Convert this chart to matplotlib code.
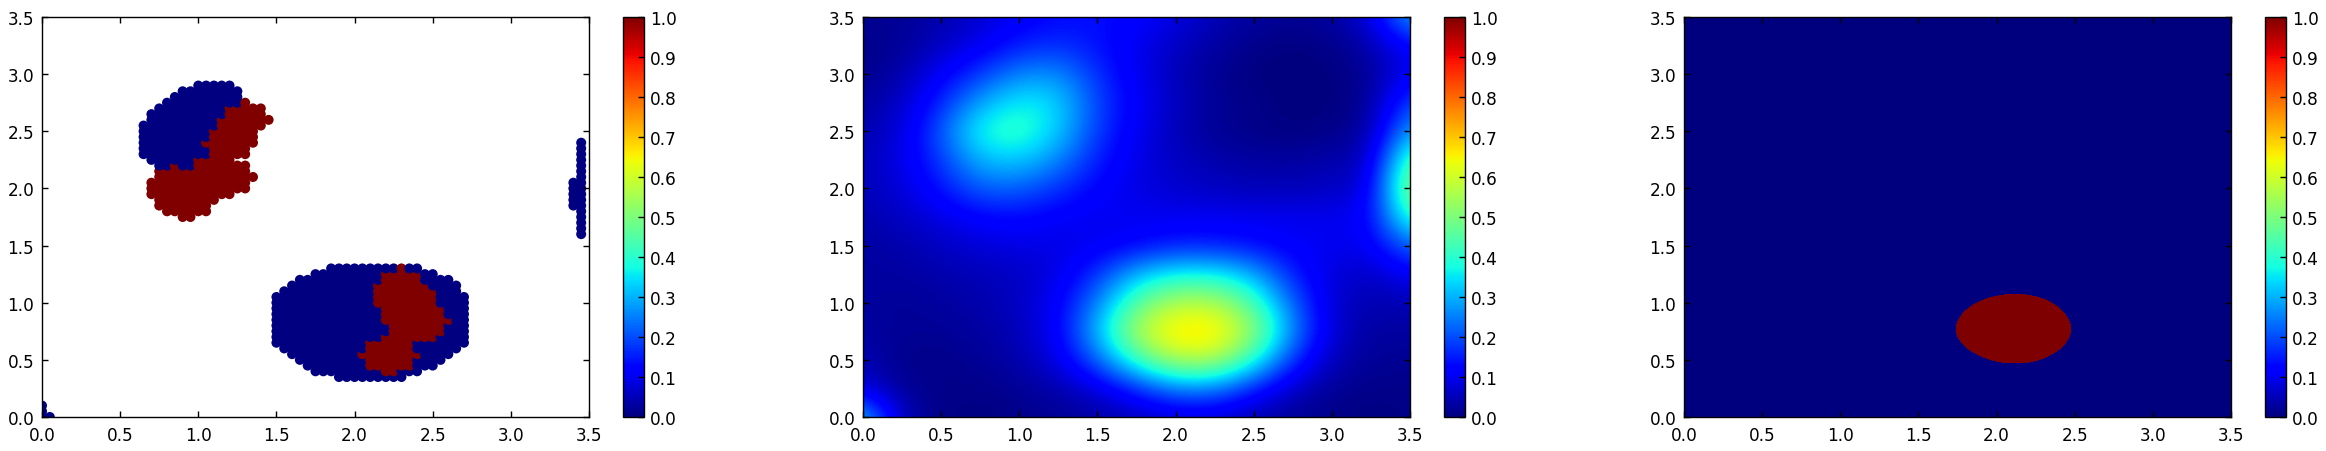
import matplotlib
matplotlib.use("Agg")
import matplotlib.pyplot as plt
import numpy as np
from matplotlib.cm import ScalarMappable
from matplotlib.colors import BoundaryNorm, ListedColormap, Normalize

# ── Training points: (y, first x, last x, runs of x labelled 1) ─────────
upper_blob = [
    (2.90, 1.00, 1.20, []),
    (2.85, 0.90, 1.25, []),
    (2.80, 0.85, 1.25, []),
    (2.75, 0.80, 1.30, [(1.30, 1.30)]),
    (2.70, 0.75, 1.40, [(1.20, 1.40)]),
    (2.65, 0.70, 1.40, [(1.20, 1.40)]),
    (2.60, 0.70, 1.45, [(1.15, 1.45)]),
    (2.55, 0.65, 1.40, [(1.15, 1.40)]),
    (2.50, 0.65, 1.35, [(1.10, 1.35)]),
    (2.45, 0.65, 1.35, [(1.10, 1.35)]),
    (2.40, 0.65, 1.35, [(1.05, 1.35)]),
    (2.35, 0.65, 1.30, [(1.10, 1.30)]),
    (2.30, 0.65, 1.30, [(1.10, 1.30)]),
    (2.25, 0.70, 1.20, [(1.00, 1.20)]),
    (2.20, 0.75, 1.30, [(0.85, 0.85), (1.00, 1.30)]),
    (2.15, 0.75, 1.30, [(0.75, 1.30)]),
    (2.10, 0.75, 1.35, [(0.75, 1.35)]),
    (2.05, 0.70, 1.30, [(0.70, 1.30)]),
    (2.00, 0.70, 1.30, [(0.70, 1.30)]),
    (1.95, 0.70, 1.20, [(0.70, 1.20)]),
    (1.90, 0.75, 1.10, [(0.75, 1.10)]),
    (1.85, 0.75, 1.05, [(0.75, 1.05)]),
    (1.80, 0.80, 1.05, [(0.80, 1.05)]),
    (1.75, 0.90, 0.95, [(0.90, 0.95)]),
]
lower_blob = [
    (1.30, 1.85, 2.40, [(2.30, 2.30)]),
    (1.25, 1.75, 2.50, [(2.20, 2.40)]),
    (1.20, 1.65, 2.60, [(2.20, 2.40)]),
    (1.15, 1.60, 2.65, [(2.15, 2.45)]),
    (1.10, 1.55, 2.65, [(2.15, 2.50)]),
    (1.05, 1.50, 2.70, [(2.15, 2.50)]),
    (1.00, 1.50, 2.70, [(2.15, 2.50)]),
    (0.95, 1.50, 2.70, [(2.20, 2.55)]),
    (0.90, 1.50, 2.70, [(2.20, 2.55)]),
    (0.85, 1.50, 2.70, [(2.20, 2.60)]),
    (0.80, 1.50, 2.70, [(2.25, 2.55)]),
    (0.75, 1.50, 2.70, [(2.25, 2.55)]),
    (0.70, 1.50, 2.70, [(2.20, 2.50)]),
    (0.65, 1.50, 2.70, [(2.10, 2.35)]),
    (0.60, 1.55, 2.65, [(2.10, 2.35)]),
    (0.55, 1.60, 2.60, [(2.05, 2.40)]),
    (0.50, 1.65, 2.55, [(2.10, 2.35)]),
    (0.45, 1.70, 2.50, [(2.10, 2.35)]),
    (0.40, 1.75, 2.40, [(2.20, 2.25)]),
    (0.35, 1.90, 2.30, []),
]
edge_strip = [
    (2.40, 3.45, 3.45, []), (2.35, 3.45, 3.45, []), (2.30, 3.45, 3.45, []),
    (2.25, 3.45, 3.45, []), (2.20, 3.45, 3.45, []), (2.15, 3.45, 3.45, []),
    (2.10, 3.45, 3.45, []), (2.05, 3.40, 3.45, []), (2.00, 3.40, 3.45, []),
    (1.95, 3.40, 3.45, []), (1.90, 3.40, 3.45, []), (1.85, 3.40, 3.45, []),
    (1.80, 3.45, 3.45, []), (1.75, 3.45, 3.45, []), (1.70, 3.45, 3.45, []),
    (1.65, 3.45, 3.45, []), (1.60, 3.45, 3.45, []),
]
corner = [
    (0.10, 0.00, 0.00, []),
    (0.05, 0.00, 0.00, []),
    (0.00, 0.00, 0.05, []),
]

# ── Predicted field on a 0.25 grid, top row is y = 3.5 ──────────────────
field = np.array([
    [.02, .02, .04, .07, .11, .13, .14, .12, .09, .05, .03, .02, .03, .08, .30],
    [.01, .02, .06, .10, .15, .17, .14, .10, .06, .03, .01, .00, .01, .04, .12],
    [.01, .04, .11, .18, .26, .27, .17, .10, .05, .02, .00, .00, .00, .02, .11],
    [.03, .06, .16, .29, .37, .34, .19, .11, .06, .02, .01, .00, .00, .02, .20],
    [.04, .08, .21, .39, .42, .33, .18, .10, .05, .02, .01, .00, .01, .03, .30],
    [.05, .09, .18, .31, .33, .26, .15, .09, .06, .04, .03, .03, .04, .05, .47],
    [.05, .08, .14, .22, .22, .17, .12, .09, .07, .06, .05, .05, .06, .08, .55],
    [.04, .06, .09, .12, .13, .11, .10, .10, .10, .10, .10, .10, .10, .11, .43],
    [.03, .04, .06, .08, .09, .09, .10, .12, .15, .15, .13, .11, .10, .10, .23],
    [.03, .03, .04, .05, .06, .09, .17, .31, .37, .37, .30, .15, .08, .06, .11],
    [.03, .02, .03, .04, .06, .11, .25, .46, .57, .57, .44, .22, .07, .04, .05],
    [.03, .02, .02, .03, .05, .11, .31, .57, .69, .69, .54, .26, .07, .03, .03],
    [.05, .01, .01, .02, .04, .09, .22, .42, .57, .57, .40, .17, .05, .02, .02],
    [.08, .02, .01, .01, .02, .04, .08, .16, .25, .25, .15, .06, .02, .01, .01],
    [.33, .04, .01, .00, .01, .02, .03, .05, .07, .07, .04, .02, .01, .00, .01],
])
threshold = 0.5

tick_values = [0.0, 0.5, 1.0, 1.5, 2.0, 2.5, 3.0, 3.5]
bar_ticks = [0.0, 0.1, 0.2, 0.3, 0.4, 0.5, 0.6, 0.7, 0.8, 0.9, 1.0]

# ── Style ───────────────────────────────────────────────────────────────
plt.rcParams.update({
    "font.family": "DejaVu Sans",
    "font.size": 12.2,
    "axes.linewidth": 1.0,
    "xtick.direction": "in",
    "ytick.direction": "in",
    "xtick.top": True,
    "ytick.right": True,
    "xtick.major.size": 4.3,
    "ytick.major.size": 4.3,
    "xtick.major.width": 1.0,
    "ytick.major.width": 1.0,
    "xtick.major.pad": 6.5,
    "ytick.major.pad": 5.5,
})

W, H = 2326, 452
fig = plt.figure(figsize=(W / 100, H / 100), dpi=100)
jet = plt.get_cmap("jet")


def panel(left):
    ax = fig.add_axes([left / W, (H - 418) / H, 547 / W, 400 / H])
    cax = fig.add_axes([(left + 581) / W, (H - 418) / H, 21 / W, 400 / H])
    cb = fig.colorbar(ScalarMappable(Normalize(0, 1), jet), cax=cax, ticks=bar_ticks)
    cb.ax.set_yticklabels([f"{t:.1f}" for t in bar_ticks])
    cb.ax.tick_params(direction="in", length=4.3, width=1.0, pad=4.5, right=True, left=False)
    cb.outline.set_linewidth(1.0)
    return ax


def finish(ax):
    ax.set_xlim(0, 3.5)
    ax.set_ylim(0, 3.5)
    ax.set_xticks(tick_values)
    ax.set_yticks(tick_values)
    ax.set_xticklabels([f"{t:.1f}" for t in tick_values])
    ax.set_yticklabels([f"{t:.1f}" for t in tick_values])


# ── Panel 1: labelled points ────────────────────────────────────────────
pts_x, pts_y, pts_c = [], [], []
for y, first, last, runs in upper_blob + lower_blob + edge_strip + corner:
    for k in range(round(first * 20), round(last * 20) + 1):
        x = k / 20
        pts_x.append(x)
        pts_y.append(y)
        pts_c.append(1.0 if any(a - 1e-6 <= x <= b + 1e-6 for a, b in runs) else 0.0)
pts_x, pts_y, pts_c = np.array(pts_x), np.array(pts_y), np.array(pts_c)
order = np.lexsort((pts_x, pts_y))

ax1 = panel(42)
ax1.scatter(pts_x[order], pts_y[order], c=pts_c[order], cmap=jet, vmin=0, vmax=1,
            s=52, linewidths=0)
finish(ax1)

# ── Panel 2: predicted field ────────────────────────────────────────────
half = 0.125
grid_extent = [-half, 3.5 + half, -half, 3.5 + half]

ax2 = panel(863)
ax2.imshow(field, cmap=jet, vmin=0, vmax=1, extent=grid_extent, aspect="auto",
           interpolation="bicubic")
finish(ax2)

# ── Panel 3: field above the threshold ──────────────────────────────────
two_tone = ListedColormap([jet(0.0), jet(1.0)])

ax3 = panel(1684)
ax3.imshow(field, cmap=two_tone, norm=BoundaryNorm([0.0, threshold, 1.0], 2),
           extent=grid_extent, aspect="auto", interpolation="bicubic")
finish(ax3)

fig.savefig("out.png", dpi=100, facecolor="white")
